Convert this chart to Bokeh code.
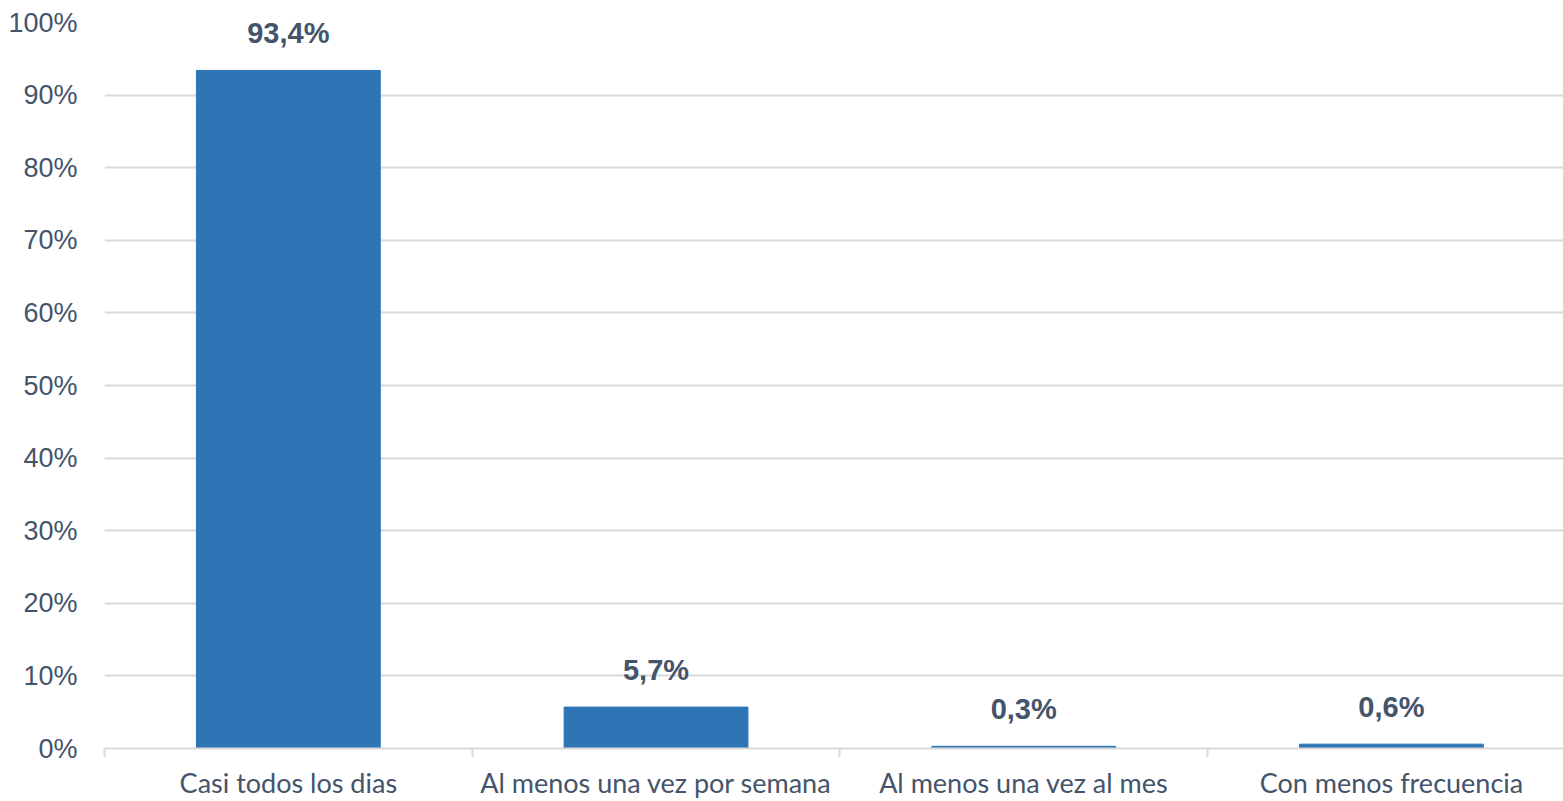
from bokeh.plotting import figure
from bokeh.models import Range1d, FixedTicker, ColumnDataSource, NumeralTickFormatter
from bokeh.embed import file_html
from bokeh.resources import INLINE
from bokeh.core.properties import value

categories = ["Casi todos los dias", "Al menos una vez por semana", "Al menos una vez al mes", "Con menos frecuencia"]
values = [93.4, 5.7, 0.3, 0.6]
value_labels = ["93,4%", "5,7%", "0,3%", "0,6%"]
y_ticks = [0, 10, 20, 30, 40, 50, 60, 70, 80, 90, 100]

TEXT = "#44546A"
BAR = "#2E75B6"
GRID = "#D9D9D9"

xs = [i + 0.5 for i in range(len(categories))]
src = ColumnDataSource(dict(x=xs, top=values, lab=value_labels))

p = figure(width=1563, height=801, output_backend="svg", toolbar_location=None,
           x_range=Range1d(0, 3.968), y_range=Range1d(0, 100),
           min_border_left=104, min_border_top=22, min_border_bottom=52, min_border_right=0)
p.outline_line_color = None

p.vbar(x="x", top="top", width=0.5, bottom=0, source=src, color=BAR, line_color=BAR, line_width=1)
p.text(x="x", y="top", text="lab", source=src, text_align="center", text_baseline="middle",
       y_offset=-37, text_font=value("Liberation Sans"), text_font_style="bold",
       text_font_size="29px", text_color=TEXT)

# x axis
p.xaxis.ticker = FixedTicker(ticks=xs, minor_ticks=list(range(len(categories))))
p.xaxis.major_label_overrides = {x: c for x, c in zip(xs, categories)}
p.xaxis.major_tick_line_color = None
p.xaxis.major_tick_out = 0
p.xaxis.major_tick_in = 0
p.xaxis.minor_tick_line_color = GRID
p.xaxis.minor_tick_line_width = 2
p.xaxis.minor_tick_out = 9
p.xaxis.minor_tick_in = 0
p.xaxis.axis_line_color = GRID
p.xaxis.axis_line_width = 2
p.xaxis.major_label_text_font = "Lato"
p.xaxis.major_label_text_font_size = "27px"
p.xaxis.major_label_text_color = TEXT
p.xaxis.major_label_standoff = 8
p.xgrid.grid_line_color = None

# y axis
p.yaxis.ticker = FixedTicker(ticks=y_ticks)
p.yaxis.formatter = NumeralTickFormatter(format="0")
p.yaxis.major_label_overrides = {t: f"{t}%" for t in y_ticks}
p.yaxis.axis_line_color = None
p.yaxis.major_tick_line_color = None
p.yaxis.minor_tick_line_color = None
p.yaxis.major_label_text_font = "Liberation Sans"
p.yaxis.major_label_text_font_size = "27px"
p.yaxis.major_label_text_color = TEXT
p.yaxis.major_label_standoff = 21
p.ygrid.ticker = FixedTicker(ticks=y_ticks)
p.ygrid.grid_line_color = GRID
p.ygrid.grid_line_width = 2

open("out.html", "w").write(file_html(p, INLINE))
